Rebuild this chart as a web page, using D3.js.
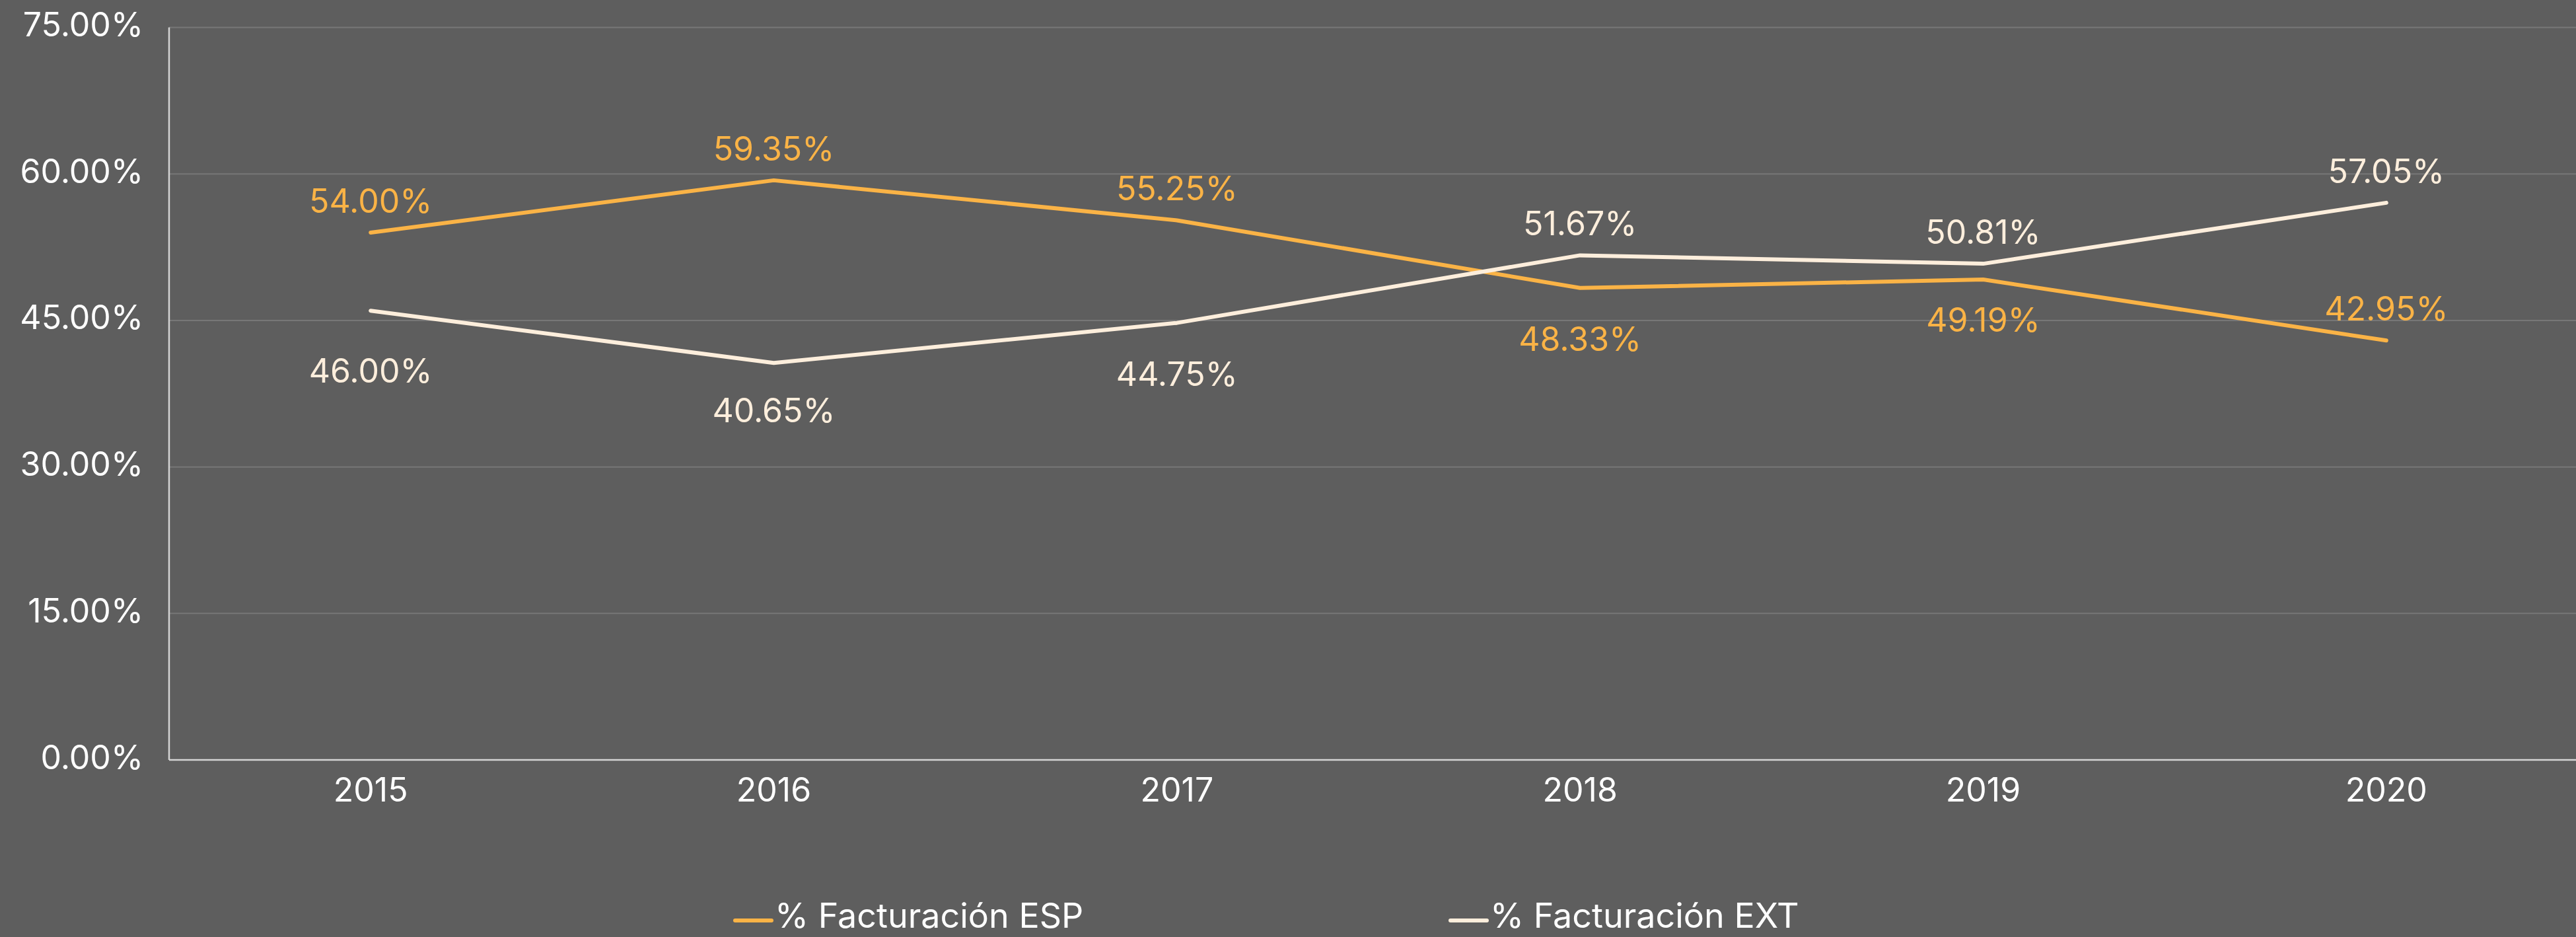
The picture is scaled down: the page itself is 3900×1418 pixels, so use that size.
<!DOCTYPE html>
<html>
<head>
<meta charset="utf-8">
<script src="https://cdn.jsdelivr.net/npm/d3@7"></script>
<style>
  html, body { margin: 0; padding: 0; background: #5E5E5E; }
  svg { display: block; }
  text { font-family: Inter, "Open Sans", sans-serif; }
</style>
</head>
<body>
<svg id="chart" width="3900" height="1418"></svg>
<script>
// ---- Data ----
const years = ["2015", "2016", "2017", "2018", "2019", "2020"];
const espValues = [54.00, 59.35, 55.25, 48.33, 49.19, 42.95];
const extValues = [46.00, 40.65, 44.75, 51.67, 50.81, 57.05];
const yTicks = [0, 15, 30, 45, 60, 75];
const seriesNames = ["% Facturación ESP", "% Facturación EXT"];
// label placement relative to the point (above / below)
const espLabelSide = ["above", "above", "above", "below", "below", "above"];
const extLabelSide = ["below", "below", "below", "above", "above", "above"];
// extra vertical nudge for individual labels (layout only, px)
const espLabelNudge = [0, 0, 0, 0, -16, 0];
const extLabelNudge = [14, -5, 0, 0, 0, 0];

// ---- Layout / style ----
const W = 3900, H = 1418;
const plotLeft = 256, plotRight = 3918, plotTop = 41.6, plotBottom = 1150;
const colors = { esp: "#FAB346", ext: "#FDEEDC" };
const fontSize = 50;

const svg = d3.select("#chart");
svg.append("rect").attr("width", W).attr("height", H).attr("fill", "#5E5E5E");

const x = d3.scaleBand().domain(years).range([plotLeft, plotRight]);
const y = d3.scaleLinear().domain([0, 75]).range([plotBottom, plotTop]);
const cx = d => x(d) + x.bandwidth() / 2;

// gridlines
svg.append("g")
  .selectAll("line")
  .data(yTicks.filter(t => t > 0))
  .join("line")
  .attr("x1", plotLeft).attr("x2", W)
  .attr("y1", d => y(d)).attr("y2", d => y(d))
  .attr("stroke", "#777777").attr("stroke-width", 2);

// y axis (labels)
const yAxis = svg.append("g")
  .attr("transform", `translate(${plotLeft},0)`)
  .call(d3.axisLeft(y).tickValues(yTicks).tickSize(0).tickPadding(39)
    .tickFormat(d => d.toFixed(2) + "%"));
yAxis.select(".domain").remove();
yAxis.selectAll("text")
  .attr("fill", "#FFFFFF").attr("font-size", fontSize)
  .attr("dy", 13).attr("font-family", "Inter");

// x axis
const xAxis = svg.append("g")
  .attr("transform", `translate(0,${plotBottom})`)
  .call(d3.axisBottom(x).tickSize(0).tickPadding(0));
xAxis.select(".domain").remove();
xAxis.selectAll("text")
  .attr("fill", "#FFFFFF").attr("font-size", fontSize)
  .attr("dy", 63).attr("y", 0).attr("font-family", "Inter");

// axis lines
svg.append("line").attr("x1", plotLeft).attr("x2", plotLeft).attr("y1", plotTop).attr("y2", plotBottom)
  .attr("stroke", "#D4D4D4").attr("stroke-width", 2.5);
svg.append("line").attr("x1", plotLeft).attr("x2", W).attr("y1", plotBottom).attr("y2", plotBottom)
  .attr("stroke", "#D4D4D4").attr("stroke-width", 2.5);

// lines
const line = d3.line().x((d, i) => cx(years[i])).y(d => y(d));
const series = [
  { key: "esp", values: espValues, sides: espLabelSide, nudge: espLabelNudge, color: colors.esp },
  { key: "ext", values: extValues, sides: extLabelSide, nudge: extLabelNudge, color: colors.ext }
];
series.forEach(s => {
  svg.append("path")
    .datum(s.values)
    .attr("d", line)
    .attr("fill", "none")
    .attr("stroke", s.color)
    .attr("stroke-width", 6)
    .attr("stroke-linecap", "round")
    .attr("stroke-linejoin", "round");
});

// data labels
series.forEach(s => {
  svg.append("g").selectAll("text")
    .data(s.values)
    .join("text")
    .attr("x", (d, i) => cx(years[i]))
    .attr("y", (d, i) => y(d) + (s.sides[i] === "above" ? -30 : 95) + s.nudge[i])
    .attr("text-anchor", "middle")
    .attr("fill", s.color)
    .attr("font-size", fontSize)
    .text(d => d.toFixed(2) + "%");
});

// legend
const legendItems = [
  { name: seriesNames[0], color: colors.esp, x: 1113 },
  { name: seriesNames[1], color: colors.ext, x: 2196 }
];
const lg = svg.append("g");
legendItems.forEach(it => {
  lg.append("line").attr("x1", it.x).attr("x2", it.x + 55)
    .attr("y1", 1393).attr("y2", 1393)
    .attr("stroke", it.color).attr("stroke-width", 6).attr("stroke-linecap", "round");
  lg.append("text").attr("x", it.x + 60).attr("y", 1404)
    .attr("fill", "#FFFFFF").attr("font-size", 52)
    .text(it.name);
});
</script>
</body>
</html>
